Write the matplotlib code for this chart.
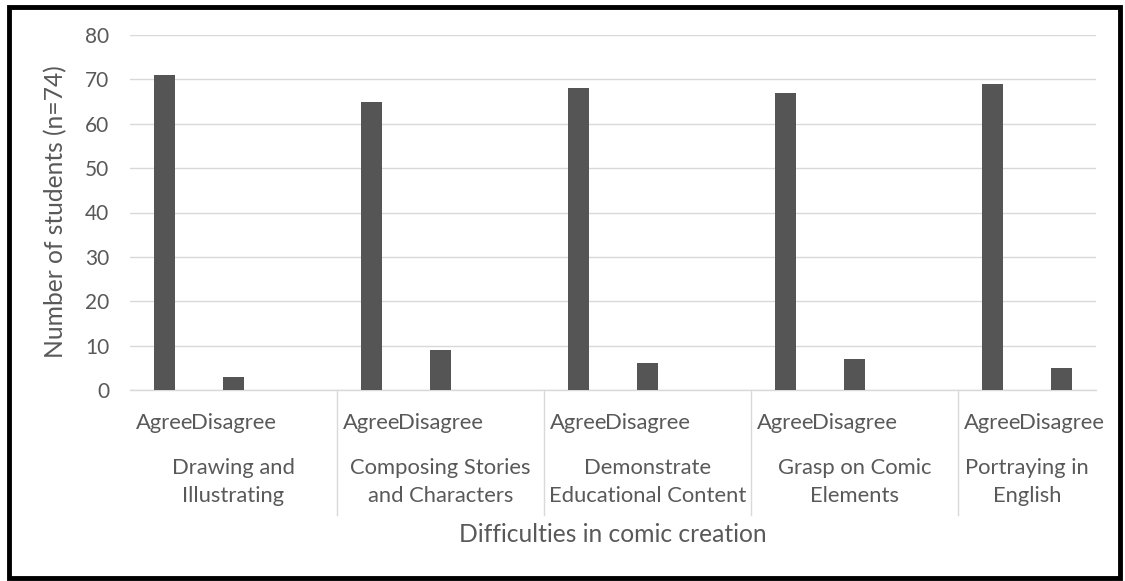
import matplotlib
matplotlib.use("Agg")
import matplotlib.pyplot as plt
import matplotlib.transforms as mtransforms
from matplotlib.patches import Rectangle

# Survey counts per difficulty (n=74)
groups = ["Drawing and\nIllustrating",
          "Composing Stories\nand Characters",
          "Demonstrate\nEducational Content",
          "Grasp on Comic\nElements",
          "Portraying in\nEnglish"]
responses = ["Agree", "Disagree"]
agree = [71, 65, 68, 67, 69]
disagree = [3, 9, 6, 7, 5]
yticks = [0, 10, 20, 30, 40, 50, 60, 70, 80]

plt.rcParams['font.family'] = ['Lato', 'DejaVu Sans']
text_col = '#595959'
grid_col = '#d9d9d9'
bar_col = '#555555'

W, H = 1125, 581
fig = plt.figure(figsize=(W / 100, H / 100), dpi=100)
fig.patch.set_facecolor('white')

# plot area in pixels
x0, x1, y0, y1 = 130, 1096, 390, 35
ax = fig.add_axes([x0 / W, 1 - y0 / H, (x1 - x0) / W, (y0 - y1) / H])

# each group takes 3 slots (Agree, Disagree, blank); last group has no blank
n_slots = len(groups) * 3 - 1
agree_x = [3 * i for i in range(len(groups))]
disagree_x = [3 * i + 1 for i in range(len(groups))]

ax.bar(agree_x, agree, width=0.3, color=bar_col, zorder=3)
ax.bar(disagree_x, disagree, width=0.3, color=bar_col, zorder=3)

ax.set_xlim(-0.5, n_slots - 0.5)
ax.set_ylim(0, 80)
ax.set_yticks(yticks)
ax.yaxis.grid(True, color=grid_col, linewidth=1)
ax.set_axisbelow(True)
for s in ['top', 'right', 'left']:
    ax.spines[s].set_visible(False)
ax.spines['bottom'].set_color(grid_col)
ax.spines['bottom'].set_linewidth(1)
ax.set_xticks([])
ax.tick_params(axis='y', length=0, pad=15, labelsize=15, labelcolor=text_col)

trans = mtransforms.blended_transform_factory(ax.transData, ax.transAxes)
ah = y0 - y1

# category labels under each bar
for i in range(len(groups)):
    for xx, lab in zip([agree_x[i], disagree_x[i]], responses):
        ax.text(xx, -33 / ah, lab, transform=trans, ha='center', va='center',
                fontsize=15.8, color=text_col)
    start = 3 * i - 0.5
    end = min(3 * i + 2.5, n_slots - 0.5)
    ax.text((start + end) / 2, -92 / ah, groups[i], transform=trans,
            ha='center', va='center', fontsize=15.8, color=text_col,
            linespacing=1.45)

# group separators
for i in range(1, len(groups)):
    ax.plot([3 * i - 0.5] * 2, [0, -125 / ah], transform=trans,
            color=grid_col, linewidth=1, clip_on=False)

ax.text(0.5, -145 / ah, "Difficulties in comic creation", transform=ax.transAxes,
        ha='center', va='center', fontsize=17.7, color=text_col)
fig.text(56 / W, 1 - 212 / H, "Number of students (n=74)", rotation=90,
         ha='center', va='center', fontsize=17.7, color=text_col)

# outer frame
fig.patches.append(Rectangle((9 / W, 3 / H), (W - 14) / W, (H - 10) / H,
                             transform=fig.transFigure, fill=False,
                             edgecolor='black', linewidth=3.5))

fig.savefig("out.png", dpi=100)
